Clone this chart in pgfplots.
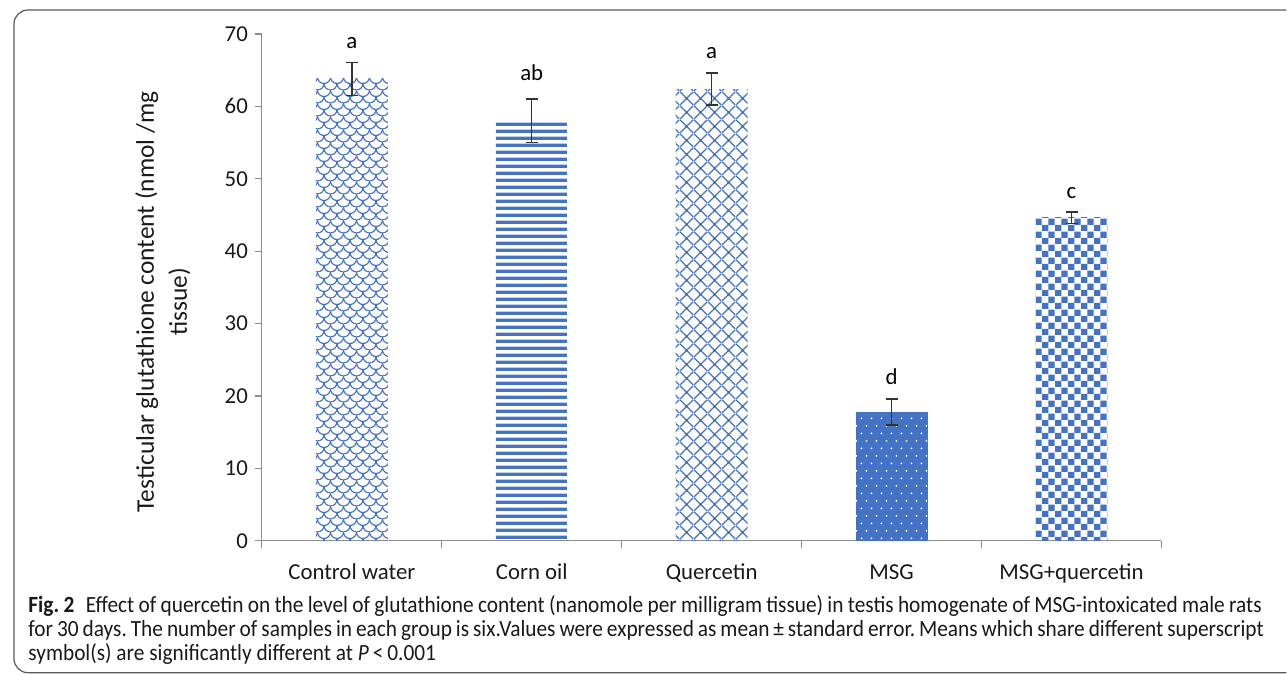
\documentclass[border=0pt]{standalone}
\usepackage{fontspec}
\setmainfont{Carlito}
\newfontfamily\capfont[FakeStretch=0.92]{Carlito}
\usepackage{pgfplots}
\pgfplotsset{compat=1.18}
\usetikzlibrary{patterns,patterns.meta}
\definecolor{barblue}{RGB}{68,114,196}
\definecolor{axgray}{RGB}{140,140,140}

\tikzdeclarepattern{
  name=hstripes, type=uncolored,
  bottom left={(0pt,0pt)}, top right={(2pt,3.4pt)}, tile size={(2pt,3.4pt)},
  code={\fill (-0.2pt,0pt) rectangle (2.2pt,1.75pt);}
}
\tikzdeclarepattern{
  name=checker, type=uncolored,
  bottom left={(0pt,0pt)}, top right={(6.6pt,6.6pt)}, tile size={(6.6pt,6.6pt)},
  code={\fill (0pt,0pt) rectangle (3.3pt,3.3pt); \fill (3.3pt,3.3pt) rectangle (6.6pt,6.6pt);}
}
\tikzdeclarepattern{
  name=wdots, type=uncolored,
  bottom left={(0pt,0pt)}, top right={(5pt,7.4pt)}, tile size={(5pt,7.4pt)},
  code={\fill (1.25pt,1.85pt) circle (0.5pt); \fill (3.75pt,5.55pt) circle (0.5pt);}
}
\tikzdeclarepattern{
  name=diamonds, type=uncolored,
  bottom left={(0pt,0pt)}, top right={(6.8pt,6.8pt)}, tile size={(6.8pt,6.8pt)},
  code={\draw[line width=0.6pt] (0pt,0pt)--(6.8pt,6.8pt) (0pt,6.8pt)--(6.8pt,0pt);
        \fill (3.4pt,3.4pt) circle (0.7pt);}
}
\tikzdeclarepattern{
  name=scales, type=uncolored,
  bottom left={(0pt,0pt)}, top right={(6.5pt,6.5pt)}, tile size={(6.5pt,6.5pt)},
  code={\draw[line width=0.6pt] (0pt,3.25pt) arc (180:360:3.25pt);
        \draw[line width=0.6pt] (0pt,3.25pt) arc (270:360:3.25pt);
        \draw[line width=0.6pt] (3.25pt,6.5pt) arc (180:270:3.25pt);}
}

\begin{document}
\frenchspacing
\begin{tikzpicture}
\begin{axis}[
  scale only axis, width=450pt, height=253.5pt,
  at={(0,0)}, anchor=south west,
  xmin=-0.5, xmax=4.5, ymin=0, ymax=70,
  axis x line*=bottom, axis y line*=left,
  axis line style={axgray, line width=0.6pt},
  ytick={0,10,...,70},
  xtick={0,1,2,3,4},
  xticklabels={Control water, Corn oil, Quercetin, MSG, MSG+quercetin},
  minor xtick={-0.5,0.5,1.5,2.5,3.5,4.5},
  tick align=outside,
  major tick length=3.5pt, minor tick length=3.5pt,
  x tick style={draw=none},
  minor x tick style={draw=axgray, line width=0.6pt},
  y tick style={axgray, line width=0.6pt},
  /pgf/number format/assume math mode=true,
  yticklabel style={font=\fontsize{11.4}{13}\selectfont, text=black!90},
  xticklabel style={font=\fontsize{11.4}{13}\selectfont, text=black!90, anchor=base, yshift=-16pt},
  error bars/error bar style={line width=0.7pt, black!80},
  error bars/error mark options={rotate=90, mark size=3pt, line width=0.7pt, black!80},
  clip=false,
]
\addplot[ybar, bar width=36pt, draw=none, pattern=scales, pattern color=barblue,
  error bars/.cd, y dir=both, y explicit] coordinates {(0,63.8) +- (0,2.3)};
\addplot[ybar, bar width=36pt, draw=none, pattern=hstripes, pattern color=barblue,
  error bars/.cd, y dir=both, y explicit] coordinates {(1,58.0) +- (0,3.0)};
\addplot[ybar, bar width=36pt, draw=none, pattern=diamonds, pattern color=barblue,
  error bars/.cd, y dir=both, y explicit] coordinates {(2,62.4) +- (0,2.2)};
\addplot[ybar, bar width=36pt, draw=none, fill=barblue, postaction={pattern=wdots, pattern color=white},
  error bars/.cd, y dir=both, y explicit] coordinates {(3,17.8) +- (0,1.8)};
\addplot[ybar, bar width=36pt, draw=none, pattern=checker, pattern color=barblue,
  error bars/.cd, y dir=both, y explicit] coordinates {(4,44.6) +- (0,0.8)};

\begin{scope}[font=\fontsize{11.4}{13}\selectfont]
\node at (axis cs:0,68.8) {a};
\node at (axis cs:1,64.6) {ab};
\node at (axis cs:2,67.4) {a};
\node at (axis cs:3,22.6) {d};
\node at (axis cs:4,48.0) {c};
\end{scope}
\end{axis}

% y label
\node[rotate=90, align=center, font=\fontsize{12.7}{16.5}\selectfont, text=black!90] at (-49.5pt,119.5pt)
  {Testicular glutathione content (nmol /mg\\tissue)};

% frame
\draw[black!65, line width=0.6pt] (512.5pt,265.5pt) -- (-117pt,265.5pt) arc (90:180:7pt)
  -- (-124pt,-59pt) arc (180:270:7pt) -- (512.5pt,-66pt);

% caption
\begin{scope}[font=\capfont\fontsize{11.6}{12}\selectfont]
\node[anchor=base west, inner sep=0pt, text=black!90] at (-117pt,-36pt)
  {\hbox to 617pt{\textbf{Fig. 2}\enspace Effect of quercetin on the level of glutathione content (nanomole per milligram tissue) in testis homogenate of MSG-intoxicated male rats}};
\node[anchor=base west, inner sep=0pt, text=black!90] at (-117pt,-48pt)
  {\hbox to 618pt{for 30 days. The number of samples in each group is six.Values were expressed as mean\,±\,standard error. Means which share different superscript}};
\node[anchor=base west, inner sep=0pt, text=black!90] at (-117pt,-60pt)
  {symbol(s) are significantly different at \textit{P}\,<\,0.001};
\end{scope}

\useasboundingbox (-131pt,-67pt) rectangle (512.5pt,270.5pt);
\end{tikzpicture}
\end{document}
